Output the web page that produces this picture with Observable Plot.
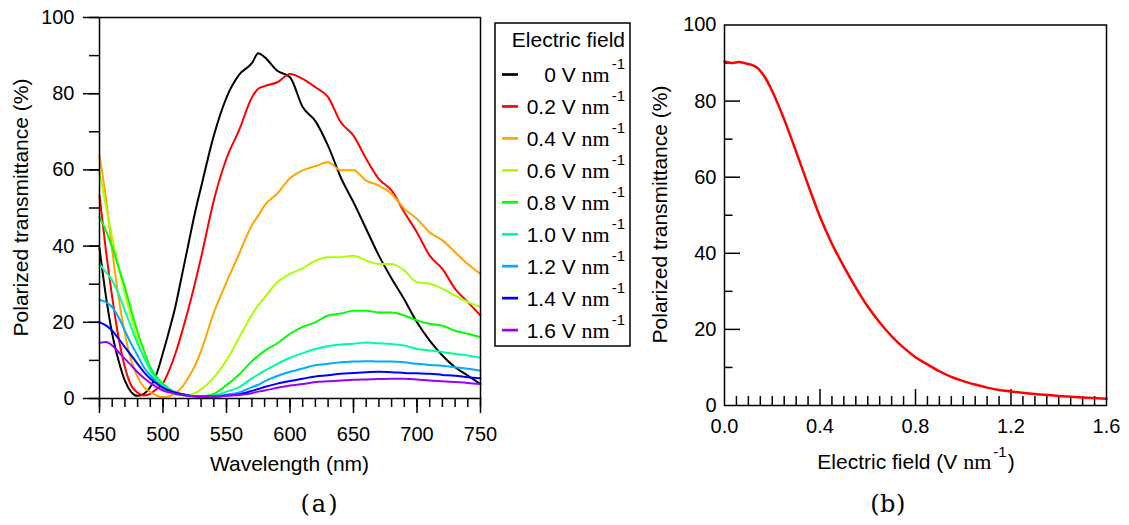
<!DOCTYPE html>
<html>
<head>
<meta charset="utf-8">
<script src="https://cdn.jsdelivr.net/npm/d3@7"></script>
<script src="https://cdn.jsdelivr.net/npm/@observablehq/plot@0.6"></script>
<style>
  html, body { margin: 0; padding: 0; background: #fff; }
  #wrap { position: relative; width: 1129px; height: 525px; overflow: hidden; background: #fff; }
  #wrap > svg, #wrap > figure { position: absolute; margin: 0; }
</style>
</head>
<body>
<div id="wrap"></div>
<script>
// ---------------- DATA ----------------
const wavelengths = [450,455,460,465,470,475,480,485,490,495,500,505,510,515,520,525,530,540,550,560,570,575,580,590,600,610,620,630,640,650,660,670,680,690,700,710,720,730,740,750];

const fieldLabels = ["0","0.2","0.4","0.6","0.8","1.0","1.2","1.4","1.6"];
const fieldColors = ["#000000","#ff0000","#ffa500","#aaff00","#00ff00","#00ff99","#00aaff","#0000ff","#9900ff"];

const T00 = [39.5,27,17,10,4.7,1.7,0.7,1.2,3,6.5,12,18,24.5,32.5,40.5,48.5,55.5,69,79,85,88,90.6,89.6,86,84.3,76.5,72.8,66.3,58,51.5,44.5,37.5,31.5,26,20,15.2,11.3,8.2,6,3.8];
const T02 = [53.3,39,26.6,16,8.2,3.4,1.5,0.8,1.2,2.5,4,7.5,12,17.5,23.5,30,37,52,63,70.5,79,81.3,82,83,85.2,83.9,81.7,79.1,72.5,69,62.9,57.6,54.6,48.9,43.6,37.5,34,28.8,25.3,21.8];
const T04 = [63.8,52.8,38.9,26.6,17,10,5.6,3,1.7,0.8,0.4,0.6,1.4,3,5.5,8.5,12.5,22.5,30.5,38,45.5,48,50.7,53.8,57.8,59.9,61,62,59.9,59.9,57.2,55.9,53.7,49.8,47.1,43.6,41.5,38.4,35.3,32.7];
const T06 = [59.4,50.5,42.3,34.5,27.5,21.3,15.2,10.9,7.4,4.7,3,1.7,1.1,0.8,0.9,1.4,2.4,5.5,10,16,22,24.5,26.5,30.5,32.7,34.2,36.2,37.1,37.1,37.5,36.2,35.3,35.3,33.6,30.5,30.1,28.8,27,25.3,24];
const T08 = [47.6,44.1,39.7,34.5,29.2,23.1,17.4,12.6,8.2,5.6,3.9,2.5,1.7,1.1,0.8,0.6,0.6,1.2,3.5,6.3,9.8,11.2,12.5,14.5,17,18.8,20,21.8,22.3,23,23,22.6,22.6,21.8,20.5,19.6,19.1,17.8,17,16.1];
const T10 = [35.3,33.2,31,27.5,23.1,18.7,14.3,10.9,7.4,5.2,3.4,2.3,1.5,1,0.7,0.5,0.5,0.8,1.8,3,5.3,6.3,7.3,9.1,10.7,11.9,13,13.8,14.2,14.4,14.7,14.5,14.3,13.9,13,12.6,12.2,11.7,11.3,10.7];
const T12 = [25.9,25.3,24,21.3,17.8,14.3,11.3,8.2,6.1,4.3,3,2.1,1.5,1.1,0.8,0.6,0.5,0.6,1,1.6,3,3.6,4.5,5.9,7,7.9,8.7,9.1,9.5,9.7,9.8,9.7,9.7,9.5,9.1,8.8,8.6,8.2,7.8,7.3];
const T14 = [20,19.2,17.8,15.7,13.5,11.3,9.1,6.9,5.2,3.9,2.8,2.1,1.5,1.1,0.8,0.6,0.5,0.5,0.8,1.1,2,2.5,3,3.9,4.6,5.2,5.8,6.1,6.5,6.7,6.9,7,6.9,6.7,6.6,6.5,6.2,6,5.6,5.3];
const T16 = [14.6,14.8,13.9,12.2,10.4,8.7,6.9,5.4,4.1,3,2.1,1.6,1.2,0.9,0.7,0.6,0.5,0.5,0.7,0.9,1.4,1.8,2.1,2.8,3.4,3.8,4.3,4.5,4.7,4.9,5,5.1,5.2,5.2,5,4.7,4.5,4.3,4.1,3.8];
const spectra = [T00,T02,T04,T06,T08,T10,T12,T14,T16];

const fieldValues = [0,0.03,0.06,0.09,0.11,0.14,0.17,0.2,0.25,0.3,0.35,0.4,0.45,0.5,0.55,0.6,0.65,0.7,0.75,0.8,0.85,0.9,0.95,1.0,1.05,1.1,1.15,1.2,1.3,1.4,1.5,1.6];
const fieldTransmittance = [90.4,90.0,90.3,89.9,89.6,88.6,86.2,82.6,75.2,66.7,58,49.6,42.5,36.5,31,26,21.8,18.2,15.2,12.7,10.8,9,7.5,6.4,5.5,4.7,4.1,3.7,3.0,2.5,2.1,1.8];

const xTicksA = [450,500,550,600,650,700,750];
const yTicks = [0,20,40,60,80,100];
const xTicksB = [0,0.4,0.8,1.2,1.6];

// ---------------- LAYOUT / STYLE ----------------
const SANS = "'Liberation Sans', Arial, Helvetica, sans-serif";
const SERIF = "'Liberation Serif', 'Times New Roman', serif";
const wrap = document.getElementById("wrap");
const baseStyle = {fontFamily: SANS, fontSize: "20px", color: "black", background: "transparent", overflow: "visible"};

// ---------------- PANEL A ----------------
const rowsA = spectra.flatMap((vals, s) => wavelengths.map((w, i) => ({w, t: vals[i], field: fieldLabels[s]})));

const A = {width: 485, height: 480, ml: 99, mr: 5, mt: 17, mb: 82};
const chartA = Plot.plot({
  width: A.width, height: A.height,
  marginLeft: A.ml, marginRight: A.mr, marginTop: A.mt, marginBottom: A.mb,
  style: baseStyle,
  x: {domain: [450, 750]},
  y: {domain: [0, 100]},
  color: {domain: fieldLabels, range: fieldColors},
  marks: [
    Plot.axisX(d3.range(450, 751, 10), {tickSize: 9, strokeWidth: 1.5, tickFormat: () => "", label: null}),
    Plot.axisX(xTicksA, {tickSize: 15, strokeWidth: 1.5, tickPadding: 13, fontSize: 20, label: null}),
    Plot.axisY(d3.range(0, 101, 10), {tickSize: 10, strokeWidth: 1.5, tickFormat: () => "", label: null}),
    Plot.axisY(yTicks, {tickSize: 16, strokeWidth: 1.5, tickPadding: 9, fontSize: 20, label: null}),
    Plot.line(rowsA, {x: "w", y: "t", z: "field", stroke: "field", strokeWidth: 2, curve: "monotone-x"}),
    Plot.frame({stroke: "black", strokeWidth: 1.5})
  ]
});
chartA.style.left = "0px"; chartA.style.top = "0px";
wrap.appendChild(chartA);

// ---------------- PANEL B ----------------
const rowsB = fieldValues.map((e, i) => ({e, t: fieldTransmittance[i]}));
const B = {left: 630, width: 499, height: 480, ml: 94, mr: 23, mt: 24.5, mb: 75};
const innerW = B.width - B.ml - B.mr;
const innerH = B.height - B.mt - B.mb;
const xMinorB = d3.range(1, 32).map(i => i * 0.05).filter(v => Math.abs(v / 0.4 - Math.round(v / 0.4)) > 1e-6);
const chartB = Plot.plot({
  width: B.width, height: B.height,
  marginLeft: B.ml, marginRight: B.mr, marginTop: B.mt, marginBottom: B.mb,
  style: baseStyle,
  x: {domain: [0, 1.6]},
  y: {domain: [0, 100]},
  marks: [
    Plot.ruleY(d3.range(10, 100, 20), {insetRight: innerW - 8.5, stroke: "black", strokeWidth: 1.5}),
    Plot.ruleY(d3.range(20, 100, 20), {insetRight: innerW - 16, stroke: "black", strokeWidth: 1.5}),
    Plot.ruleX(xMinorB, {insetTop: innerH - 9, stroke: "black", strokeWidth: 1.5}),
    Plot.ruleX([0.4, 0.8, 1.2], {insetTop: innerH - 16, stroke: "black", strokeWidth: 1.5}),
    Plot.axisX(xTicksB, {tickSize: 0, tickPadding: 13.5, fontSize: 20, tickFormat: d3.format(".1f"), label: null}),
    Plot.axisY(yTicks, {tickSize: 0, tickPadding: 8, fontSize: 20, label: null}),
    Plot.line(rowsB, {x: "e", y: "t", stroke: "#ff0000", strokeWidth: 2.5, curve: "monotone-x"}),
    Plot.frame({stroke: "black", strokeWidth: 1.5})
  ]
});
chartB.style.left = B.left + "px"; chartB.style.top = "0px";
wrap.appendChild(chartB);

// ---------------- TEXT OVERLAY + LEGEND ----------------
const svg = d3.select(wrap).append("svg")
  .attr("width", 1129).attr("height", 525)
  .style("left", "0px").style("top", "0px")
  .style("pointer-events", "none")
  .attr("font-family", SANS).attr("fill", "black");

// axis titles
svg.append("text").attr("x", 289.5).attr("y", 471).attr("text-anchor", "middle")
  .attr("font-size", 21).text("Wavelength (nm)");
svg.append("text").attr("transform", "translate(27.5,207.5) rotate(-90)").attr("text-anchor", "middle")
  .attr("font-size", 21).text("Polarized transmittance (%)");
svg.append("text").attr("transform", "translate(667,214.5) rotate(-90)").attr("text-anchor", "middle")
  .attr("font-size", 21).text("Polarized transmittance (%)");
const tB = svg.append("text").attr("x", 916).attr("y", 469).attr("text-anchor", "middle").attr("font-size", 21);
tB.append("tspan").text("Electric field (V ");
tB.append("tspan").attr("font-family", SERIF).attr("font-size", 22).text("nm");
tB.append("tspan").attr("dy", -12).attr("font-size", 15).attr("dx", 2).text("-1");
tB.append("tspan").attr("dy", 12).attr("dx", 1).text(")");

// panel labels
svg.append("text").attr("x", 320).attr("y", 512).attr("text-anchor", "middle")
  .attr("font-family", "'DejaVu Serif', serif").attr("font-size", 24).attr("letter-spacing", 2).text("(a)");
svg.append("text").attr("x", 888).attr("y", 512).attr("text-anchor", "middle")
  .attr("font-family", "'DejaVu Serif', serif").attr("font-size", 24).attr("letter-spacing", 0.5).text("(b)");

// legend
const lg = svg.append("g").attr("transform", "translate(495,23)");
lg.append("rect").attr("x", 0).attr("y", 0).attr("width", 135).attr("height", 323)
  .attr("fill", "white").attr("stroke", "black").attr("stroke-width", 1.5);
lg.append("text").attr("x", 130).attr("y", 24).attr("text-anchor", "end").attr("font-size", 21).text("Electric field");
fieldLabels.forEach((f, i) => {
  const yy = 51.5 + i * 31.95;
  lg.append("line").attr("x1", 7).attr("x2", 23).attr("y1", yy).attr("y2", yy)
    .attr("stroke", fieldColors[i]).attr("stroke-width", 2.7);
  const t = lg.append("text").attr("x", 130).attr("y", yy + 7.5).attr("text-anchor", "end").attr("font-size", 21);
  t.append("tspan").text(f + " V ");
  t.append("tspan").attr("font-family", SERIF).attr("font-size", 22).text("nm");
  t.append("tspan").attr("dy", -13).attr("dx", 2).attr("font-size", 15).text("-1");
});
</script>
</body>
</html>
